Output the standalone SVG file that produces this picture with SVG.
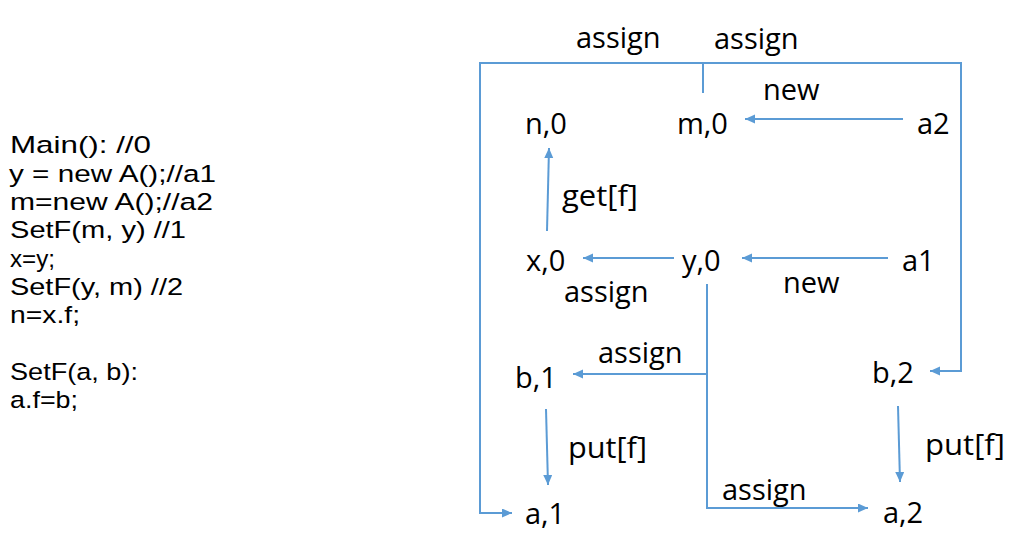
<svg xmlns="http://www.w3.org/2000/svg" width="1022" height="537" viewBox="0 0 1022 537">
<style>
text{font-family:"Open Sans","Liberation Sans",sans-serif;font-size:29px;fill:#000}
.c{font-family:"Liberation Sans","Open Sans",sans-serif;font-size:24.5px}
.e{fill:none;stroke:#5B9BD5;stroke-width:2}
.a{marker-end:url(#ah)}
</style>
<defs>
<marker id="ah" markerUnits="userSpaceOnUse" markerWidth="11" markerHeight="10" refX="10" refY="4.5" orient="auto">
<path d="M0,0 L10,4.5 L0,9 Z" fill="#5B9BD5"/>
</marker>
</defs>
<rect width="1022" height="537" fill="#fff"/>
<g id="code">
<text class="c" x="10" y="153" textLength="141" lengthAdjust="spacingAndGlyphs">Main(): //0</text>
<text class="c" x="9" y="181.5" textLength="207" lengthAdjust="spacingAndGlyphs">y = new A();//a1</text>
<text class="c" x="10" y="210" textLength="203" lengthAdjust="spacingAndGlyphs">m=new A();//a2</text>
<text class="c" x="10" y="238.3" textLength="176" lengthAdjust="spacingAndGlyphs">SetF(m, y) //1</text>
<text class="c" x="10" y="266.7" textLength="45" lengthAdjust="spacingAndGlyphs">x=y;</text>
<text class="c" x="10" y="295" textLength="173" lengthAdjust="spacingAndGlyphs">SetF(y, m) //2</text>
<text class="c" x="10" y="323.3" textLength="70" lengthAdjust="spacingAndGlyphs">n=x.f;</text>
<text class="c" x="10" y="380" textLength="128" lengthAdjust="spacingAndGlyphs">SetF(a, b):</text>
<text class="c" x="10" y="408.3" textLength="68" lengthAdjust="spacingAndGlyphs">a.f=b;</text>
</g>
<g id="connectors">
<path class="e a" d="M903,119 H745"/>
<path class="e a" d="M703,93 V63 H480 V513 H512"/>
<path class="e a" d="M703,63 H961 V371 H930"/>
<path class="e a" d="M547,231 L549,148"/>
<path class="e a" d="M674,258 H583"/>
<path class="e a" d="M888,258 H742"/>
<path class="e a" d="M707,284 V508 H868"/>
<path class="e a" d="M707,374 H573"/>
<path class="e a" d="M546,409 L548,485"/>
<path class="e a" d="M898,406 L900,482"/>
</g>
<g id="edge-labels">
<text x="576" y="48">assign</text>
<text x="714" y="49">assign</text>
<text x="763" y="100">new</text>
<text x="562" y="206" textLength="76" lengthAdjust="spacingAndGlyphs">get[f]</text>
<text x="564" y="302">assign</text>
<text x="783" y="293">new</text>
<text x="598" y="363">assign</text>
<text x="568" y="458" textLength="79" lengthAdjust="spacingAndGlyphs">put[f]</text>
<text x="925" y="455" textLength="80" lengthAdjust="spacingAndGlyphs">put[f]</text>
<text x="722" y="500">assign</text>
</g>
<g id="n0"><text x="525" y="134">n,0</text></g>
<g id="m0"><text x="677" y="134">m,0</text></g>
<g id="a2"><text x="917" y="134">a2</text></g>
<g id="x0"><text x="526" y="271">x,0</text></g>
<g id="y0"><text x="682" y="271">y,0</text></g>
<g id="a1"><text x="902" y="271">a1</text></g>
<g id="b1"><text x="515" y="388">b,1</text></g>
<g id="b2"><text x="872" y="383">b,2</text></g>
<g id="a_1"><text x="525" y="524">a,1</text></g>
<g id="a_2"><text x="883" y="523">a,2</text></g>
</svg>
